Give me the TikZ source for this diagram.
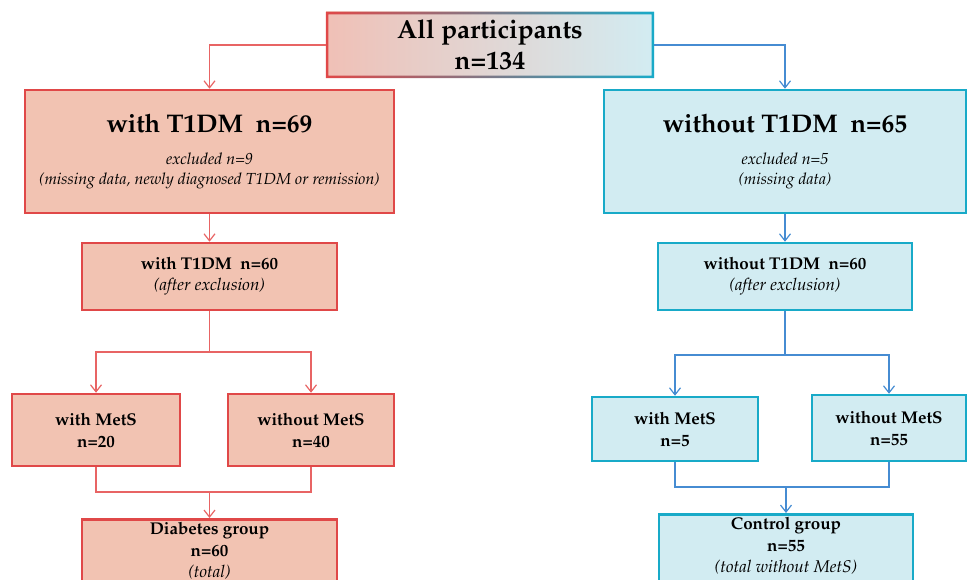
\documentclass[tikz,border=0pt]{standalone}
\usepackage[T1]{fontenc}
\usepackage{mathpazo}
\usepackage{tikz}
\usetikzlibrary{arrows.meta}
\definecolor{redfill}{RGB}{242,195,178}
\definecolor{redline}{RGB}{224,72,72}
\definecolor{redlinkc}{RGB}{232,100,100}
\definecolor{bluefill}{RGB}{210,236,242}
\definecolor{blueline}{RGB}{24,170,200}
\definecolor{bluelinkc}{RGB}{70,140,210}
\definecolor{allleft}{RGB}{240,192,182}
\definecolor{allmid}{RGB}{216,216,222}
\definecolor{allright}{RGB}{210,236,242}
\definecolor{allmidline}{RGB}{225,195,205}

\begin{document}
\begin{tikzpicture}[x=1pt,y=-1pt,
    redbox/.style={draw=redline,line width=2.5pt,fill=redfill,align=center},
    bluebox/.style={draw=blueline,line width=2.5pt,fill=bluefill,align=center},
    redlink/.style={draw=redlinkc,line width=1.2pt},
    bluelink/.style={draw=bluelinkc,line width=1.2pt},
    headarrow/.style={-{Straight Barb[length=7pt,width=11pt]}}]
    \useasboundingbox (0,0) rectangle (967,580);

    \node[minimum width=328pt,minimum height=66pt,left color=allleft,middle color=allmid,right color=allright,
          align=center,font=\fontsize{26}{31}\selectfont\bfseries] (all) at (490,45) {All participants\\n=134};
    \shade[left color=redline,middle color=allmidline,right color=blueline,even odd rule]
        (all.north west) rectangle (all.south east)
        ([shift={(2.5,2.5)}]all.north west) rectangle ([shift={(-2.5,-2.5)}]all.south east);

    \begin{scope}
        \node[redbox,minimum width=369pt,minimum height=123pt,font=\fontsize{16}{20}\selectfont\itshape] (withT1) at (209.5,151.5)
            {{\fontsize{25.5}{30}\selectfont\bfseries\upshape with T1DM\ \ n=69}\\[12pt]excluded n=9\\(missing data, newly diagnosed T1DM or remission)};
        \node[redbox,minimum width=255pt,minimum height=67pt,font=\fontsize{17}{21}\selectfont] (withT1x) at (209.5,276.5)
            {\textbf{with T1DM\ \ n=60}\\\textit{(after exclusion)}};
        \node[redbox,minimum width=168pt,minimum height=72pt,font=\fontsize{17}{22}\selectfont\bfseries] (withMetS) at (96,430) {with MetS\\n=20};
        \node[redbox,minimum width=166pt,minimum height=72pt,font=\fontsize{17}{22}\selectfont\bfseries] (noMetS) at (311,430) {without MetS\\n=40};
        \node[redbox,minimum width=255pt,anchor=north,inner ysep=3pt,font=\fontsize{17}{21.5}\selectfont] (diab) at (209.5,518)
            {\textbf{Diabetes group}\\\textbf{n=60}\\\textit{(total)}\\[6pt]};
        \coordinate (lsplit) at (209.5,352);
        \coordinate (lmerge) at (209.5,492);
        \draw[redlink,headarrow] (all.west) -| (withT1.north);
        \draw[redlink,headarrow] (withT1.south) -- (withT1x.north);
        \draw[redlink] (withT1x.south) -- (lsplit);
        \draw[redlink,headarrow] (lsplit) -| (withMetS.north);
        \draw[redlink,headarrow] (lsplit) -| (noMetS.north);
        \draw[redlink] (withMetS.south) |- (lmerge) -| (noMetS.south);
        \draw[redlink,headarrow] (lmerge) -- (diab.north);
    \end{scope}

    \begin{scope}
        \node[bluebox,minimum width=362pt,minimum height=123pt,font=\fontsize{16}{20}\selectfont\itshape] (noT1) at (785,151.5)
            {{\fontsize{25.5}{30}\selectfont\bfseries\upshape without T1DM\ \ n=65}\\[12pt]excluded n=5\\(missing data)};
        \node[bluebox,minimum width=254pt,minimum height=67pt,font=\fontsize{17}{21}\selectfont] (noT1x) at (785,276.5)
            {\textbf{without T1DM\ \ n=60}\\\textit{(after exclusion)}};
        \node[bluebox,minimum width=166pt,minimum height=64pt,font=\fontsize{17}{22}\selectfont\bfseries] (ctlMetS) at (675,429) {with MetS\\n=5};
        \node[bluebox,minimum width=154pt,minimum height=66pt,font=\fontsize{17}{22}\selectfont\bfseries] (ctlNoMetS) at (889,428) {without MetS\\n=55};
        \node[bluebox,minimum width=254pt,anchor=north,inner ysep=3pt,font=\fontsize{17}{21.5}\selectfont] (ctl) at (786,513)
            {\textbf{Control group}\\\textbf{n=55}\\\textit{(total without MetS)}\\[6pt]};
        \coordinate (rsplit) at (785,355);
        \coordinate (rmerge) at (786,487);
        \draw[bluelink,headarrow] (all.east) -| (noT1.north);
        \draw[bluelink,headarrow] (noT1.south) -- (noT1x.north);
        \draw[bluelink] (noT1x.south) -- (rsplit);
        \draw[bluelink,headarrow] (rsplit) -| (ctlMetS.north);
        \draw[bluelink,headarrow] (rsplit) -| (ctlNoMetS.north);
        \draw[bluelink] (ctlMetS.south) |- (rmerge) -| (ctlNoMetS.south);
        \draw[bluelink,headarrow] (rmerge) -- (ctl.north);
    \end{scope}
\end{tikzpicture}
\end{document}
